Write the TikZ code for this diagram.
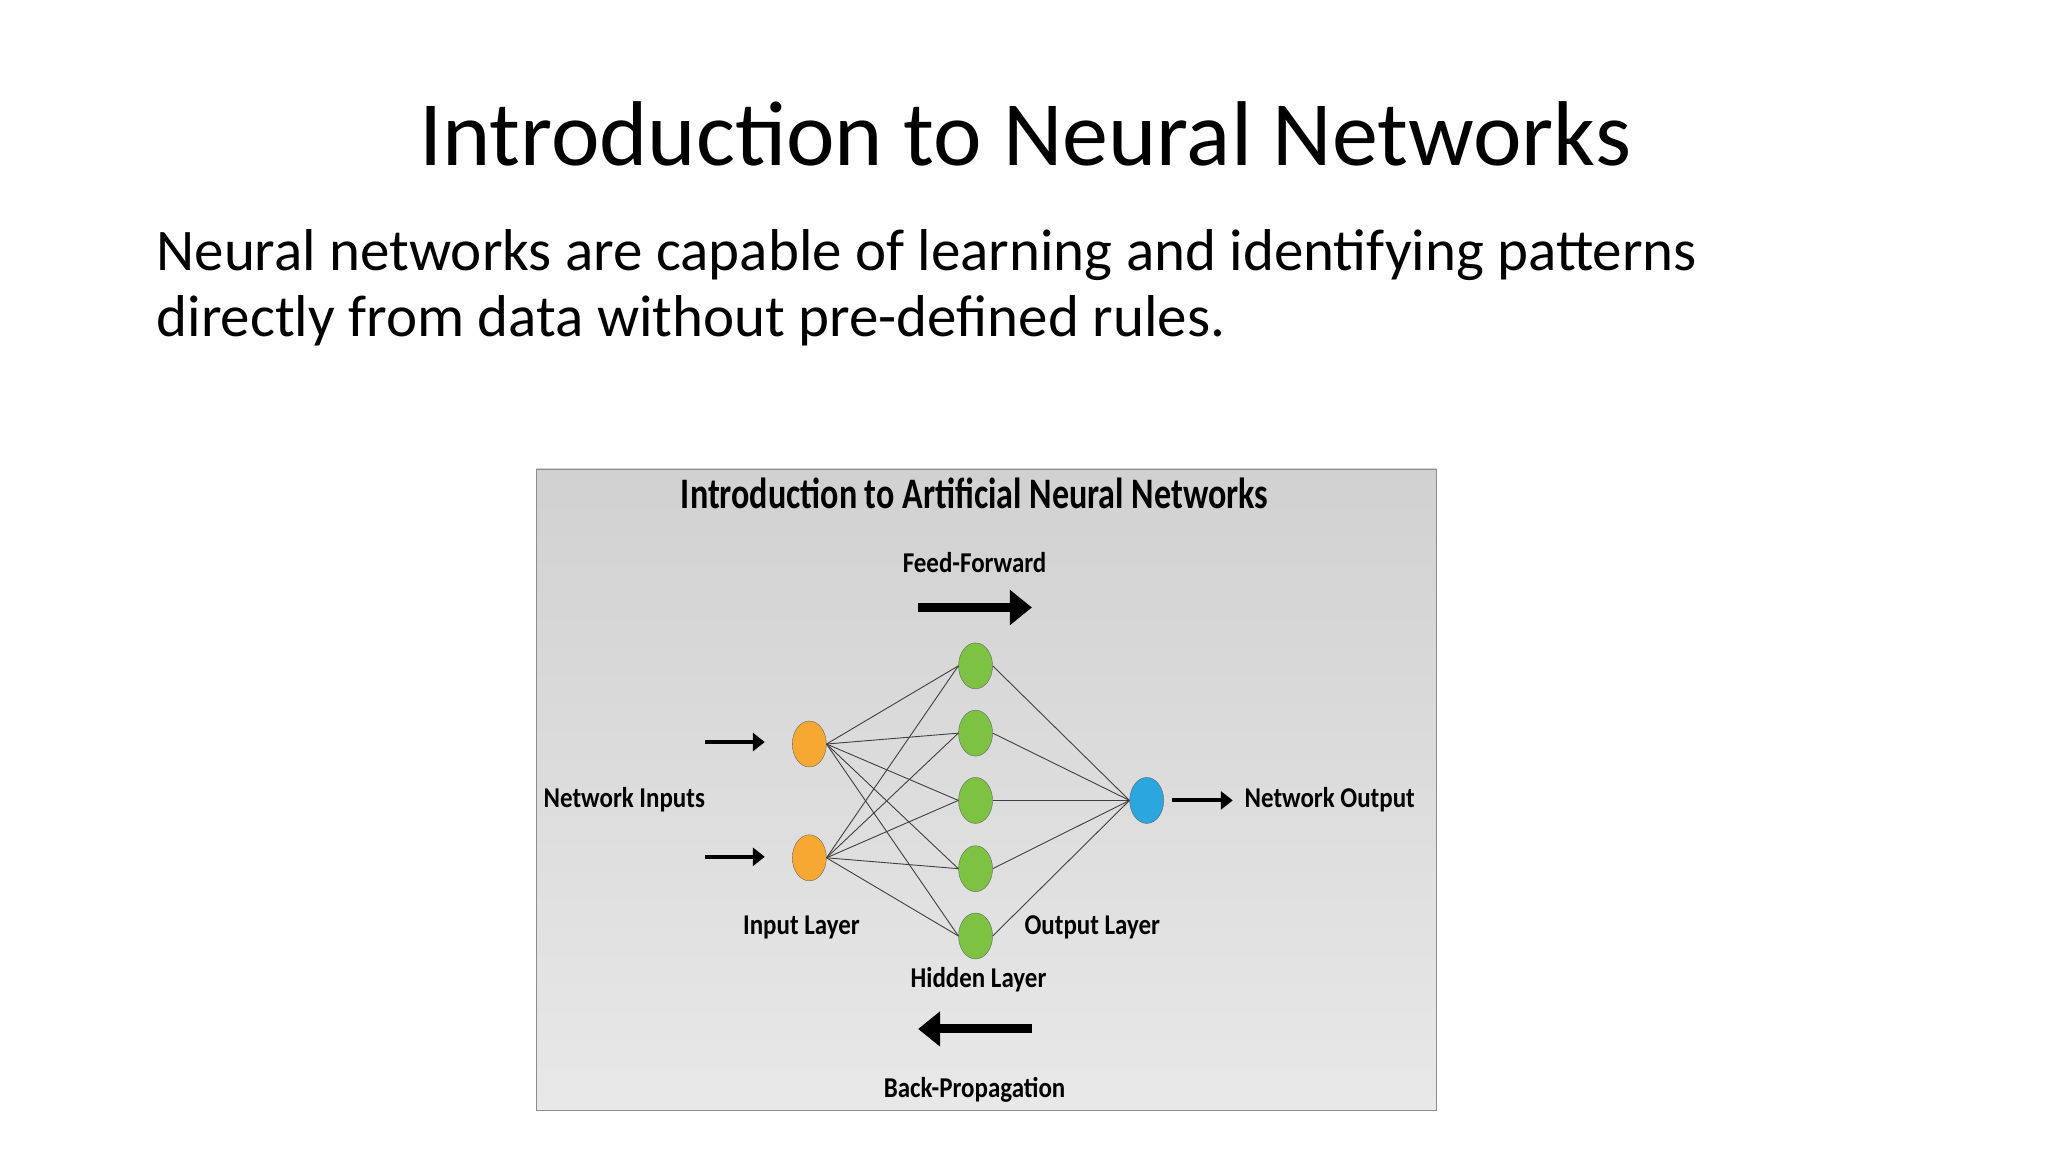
\documentclass[tikz,border=0pt]{standalone}
\usepackage{fontspec}
\setmainfont{Carlito}
\usepackage{tikz}
\usetikzlibrary{arrows.meta,shapes.geometric}

\definecolor{inorange}{HTML}{F7A833}
\definecolor{hidgreen}{HTML}{7DC242}
\definecolor{outblue}{HTML}{2BA6DE}

\tikzset{
  neuron/.style={draw=black!60, ellipse, minimum width=34pt, minimum height=46pt, inner sep=0pt},
  lbl/.style={font=\fontsize{29}{32}\selectfont\bfseries, inner sep=0pt, transform shape, xscale=0.87},
  flow/.style={line width=9pt, -{Triangle[length=22pt, width=34pt]}},
  feed/.style={line width=4pt, -{Triangle[length=12pt, width=18pt]}}
}

\begin{document}
\begin{tikzpicture}[x=1pt, y=-1pt]
  \useasboundingbox (0,0) rectangle (2048,1152);
  \fill[white] (0,0) rectangle (2048,1152);
  \begin{scope}[scale=0.9894]
  % slide text
  \node[inner sep=0pt, font=\fontsize{92}{100}\selectfont] (title) at (1036,135) {Introduction to Neural Networks};
  \node[inner sep=0pt, anchor=north west, align=left, font=\fontsize{59}{66}\selectfont] (body) at (158,232)
    {Neural networks are capable of learning and identifying patterns\\directly from data without pre-defined rules.};
  % picture frame
  \shade[top color=black!18, bottom color=black!9, draw=black!45] (542,474) rectangle (1452,1122);
  \node[lbl, font=\fontsize{44}{48}\selectfont\bfseries, xscale=0.9] (head) at (985,499) {Introduction to Artificial Neural Networks};
  \node[lbl] (ff) at (985,569) {Feed-Forward};
  \node[lbl] (bp) at (985,1102) {Back-Propagation};
  \coordinate (ffa) at (928,614);  \coordinate (ffb) at (1043,614);
  \coordinate (bpa) at (1043,1040); \coordinate (bpb) at (928,1040);
  \draw[flow] (ffa) -- (ffb);
  \draw[flow] (bpa) -- (bpb);
  % neurons
  \node[neuron, fill=inorange] (i1) at (818,752) {};
  \node[neuron, fill=inorange] (i2) at (818,867) {};
  \foreach \y [count=\k] in {673,741,809,878,946}
    \node[neuron, fill=hidgreen] (h\k) at (986,\y) {};
  \node[neuron, fill=outblue] (o) at (1159,809) {};
  \foreach \i in {1,2}
    \foreach \k in {1,...,5}
      \draw[black!75, line width=0.9pt] (i\i.east) -- (h\k.west);
  \foreach \k in {1,...,5}
    \draw[black!75, line width=0.9pt] (h\k.east) -- (o.west);
  % side arrows and labels
  \coordinate (ia1) at (713,750); \coordinate (ia2) at (713,866);
  \draw[feed] (ia1) -- ++(60,0);
  \draw[feed] (ia2) -- ++(60,0);
  \coordinate (oa) at (1185,809);
  \draw[feed] (oa) -- ++(61,0);
  \node[lbl] (nin) at (631,808) {Network Inputs};
  \node[lbl] (nout) at (1344,808) {Network Output};
  \node[lbl] (il) at (810,937) {Input Layer};
  \node[lbl] (ol) at (1104,937) {Output Layer};
  \node[lbl] (hl) at (989,990) {Hidden Layer};
  \end{scope}
\end{tikzpicture}
\end{document}
